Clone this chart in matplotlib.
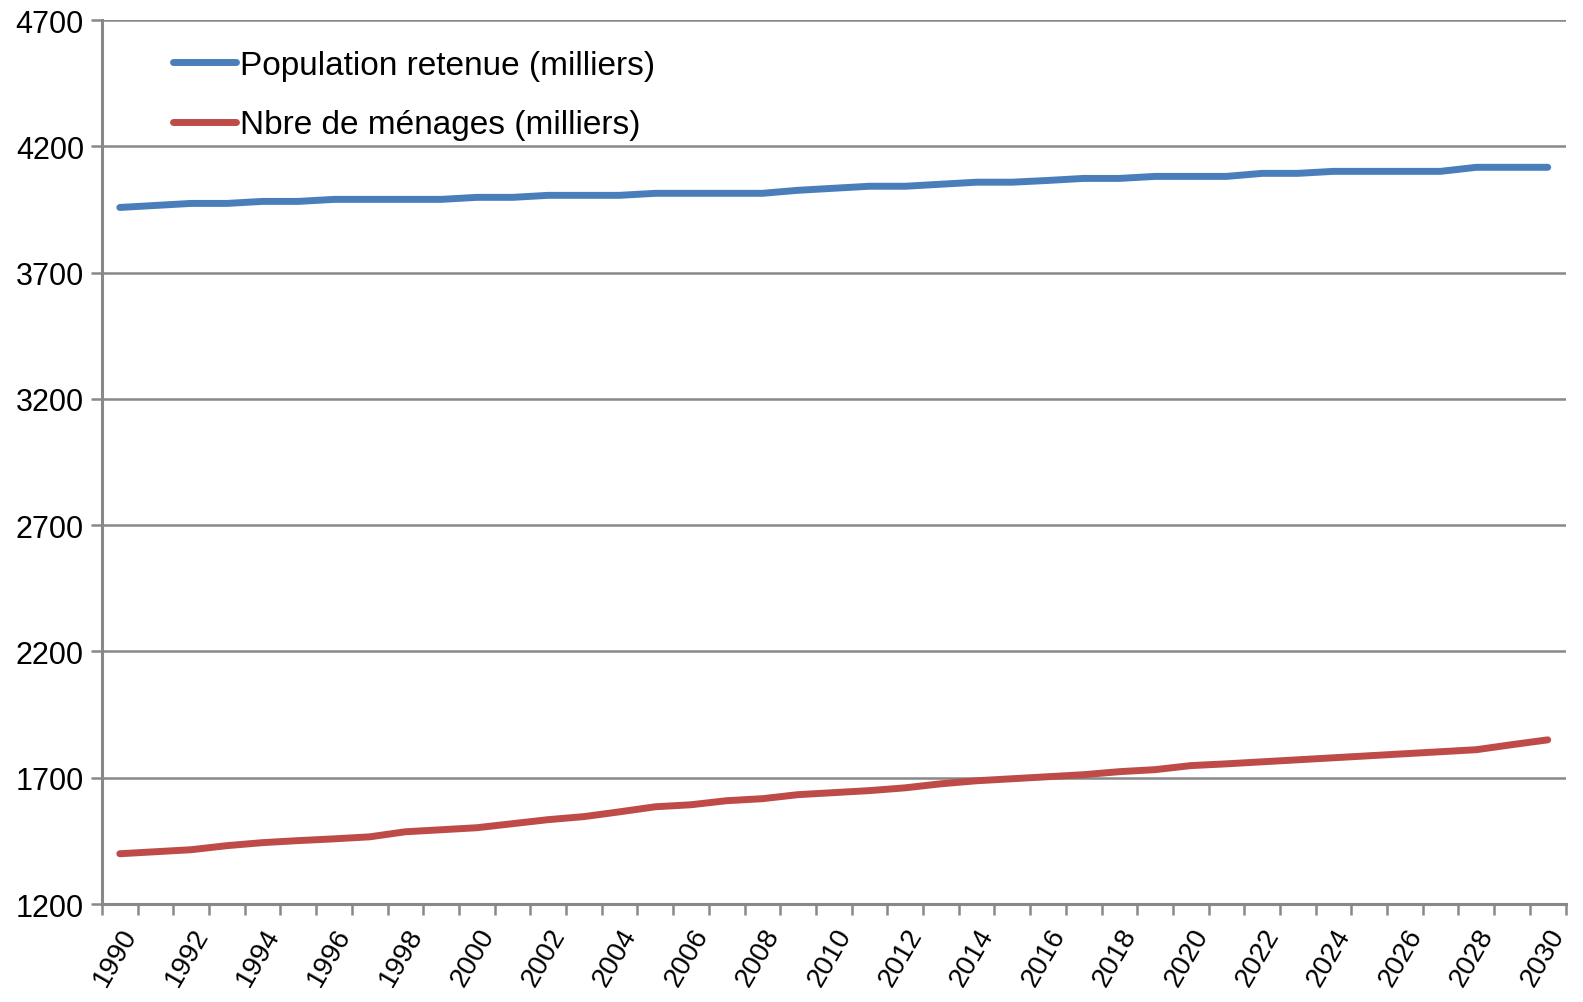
import numpy as np
import matplotlib.pyplot as plt
from matplotlib.ticker import FixedLocator

plt.rcParams['font.family'] = ['Liberation Sans Narrow', 'Liberation Sans', 'DejaVu Sans']

# --- Données (milliers) ---
annees = list(range(1990, 2031))

population = [3958, 3966, 3974, 3974, 3982, 3982, 3990, 3990, 3990, 3990,
              3998, 3998, 4006, 4006, 4006, 4014, 4014, 4014, 4014, 4026,
              4034, 4042, 4042, 4050, 4058, 4058, 4065, 4073, 4073, 4081,
              4081, 4081, 4093, 4093, 4101, 4101, 4101, 4101, 4117, 4117,
              4117]

menages = [1399, 1407, 1415, 1431, 1443, 1451, 1458, 1466, 1486, 1494,
           1502, 1518, 1534, 1546, 1565, 1585, 1593, 1609, 1617, 1633,
           1641, 1649, 1660, 1676, 1688, 1696, 1704, 1712, 1724, 1732,
           1748, 1755, 1763, 1771, 1779, 1787, 1795, 1803, 1811, 1831,
           1850]

x = np.arange(len(annees))

fig = plt.figure(figsize=(15.83, 10.03), dpi=100)
ax = fig.add_axes([0.0644, 0.0977, 0.9246, 0.8813])

ax.plot(x, population, color="#4A7EBB", linewidth=5, solid_capstyle="round",
        label="Population retenue (milliers)")
ax.plot(x, menages, color="#BE4B48", linewidth=5, solid_capstyle="round",
        label="Nbre de ménages (milliers)")

ax.set_xlim(-0.5, len(annees) - 0.5)
ax.set_ylim(1200, 4700)
ax.set_yticks(np.arange(1200, 4701, 500))
ax.yaxis.grid(True, color="#888888", linewidth=1.8)
ax.set_axisbelow(True)

# etiquettes une annee sur deux, graduations entre categories
ax.set_xticks(x[::2])
ax.set_xticklabels([str(a) for a in annees[::2]], rotation=60, ha="right",
                   rotation_mode="anchor")
ax.xaxis.set_minor_locator(FixedLocator(np.arange(-0.5, len(annees), 1)))
ax.tick_params(axis="x", which="major", length=0, labelsize=20, pad=14)
ax.tick_params(axis="x", which="minor", length=8, width=1.8, color="#888888")
ax.tick_params(axis="y", length=8, width=1.8, color="#888888", labelsize=22, pad=5)

for s in ["top", "right"]:
    ax.spines[s].set_visible(False)
for s in ["left", "bottom"]:
    ax.spines[s].set_color("#888888")
    ax.spines[s].set_linewidth(2.2)

leg = ax.legend(loc="upper left", bbox_to_anchor=(0.028, 1.0), frameon=False,
                fontsize=24, handlelength=1.9, handletextpad=0.1, labelspacing=0.85)
for line in leg.get_lines():
    line.set_linewidth(5)

plt.savefig("out.png", dpi=100)
